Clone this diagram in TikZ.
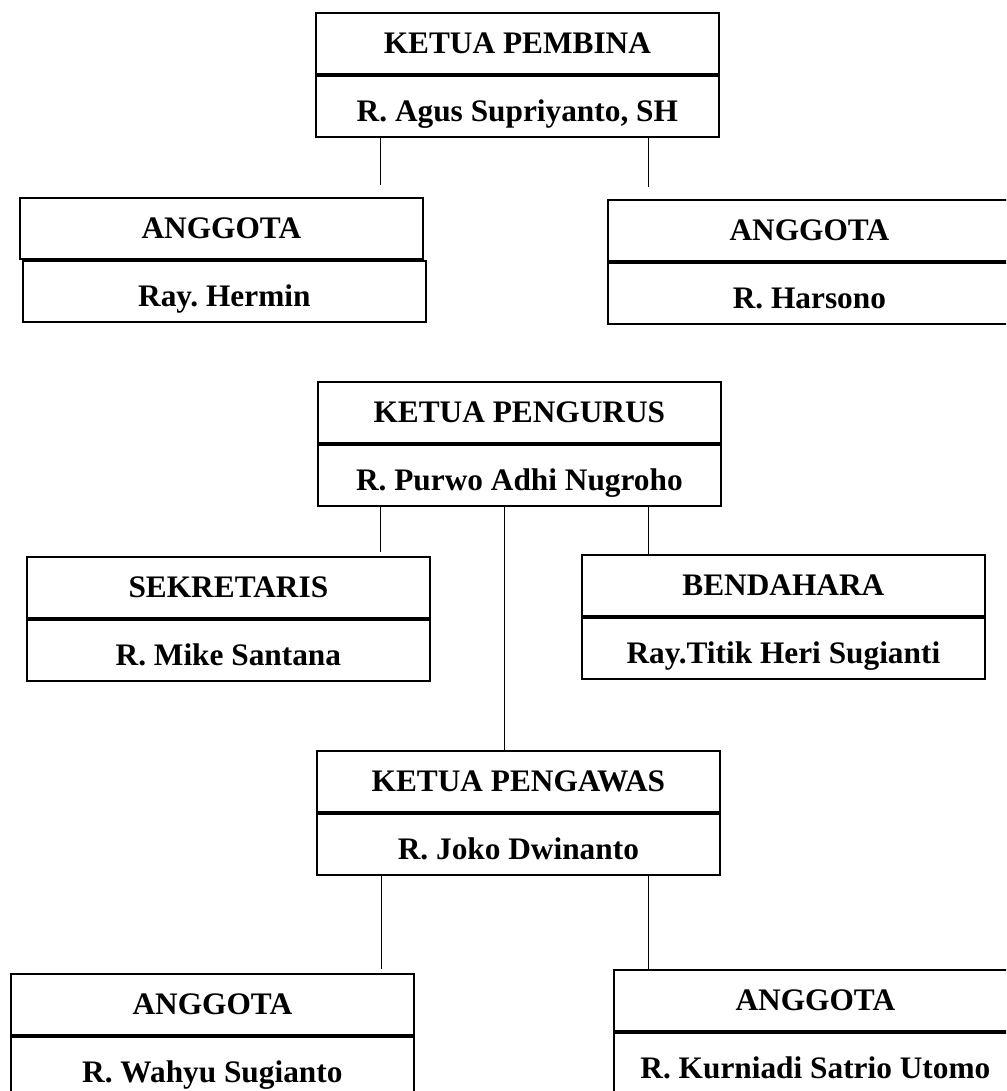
\documentclass[tikz,border=0pt]{standalone}
\usepackage{fontspec}
\setmainfont{Liberation Serif}
\usetikzlibrary{positioning}
\frenchspacing

\tikzset{
  jabatan/.style={draw, line width=1.3pt, anchor=north west, inner sep=0pt,
    minimum width=302.25pt, minimum height=46pt,
    font=\bfseries\fontsize{23.5}{28}\selectfont, text height=15.5pt, text depth=0pt},
  nama/.style={jabatan, anchor=north, text height=23pt},
  garis/.style={line width=0.75pt}
}

\begin{document}
\begin{tikzpicture}[x=0.75pt,y=0.75pt,yscale=-1,xscale=1]
%set diagram size 1006 x 1091
\clip (0,0) rectangle (1006,1091);

% Pembina
\node [jabatan] (pembina) at (315,12) {KETUA PEMBINA};
\node [nama, below=0pt of pembina] (pembinaNama) {R. Agus Supriyanto, SH};
% Anggota pembina kiri
\node [jabatan] (anggotaA) at (19,197) {ANGGOTA};
\node [nama, below=0pt of anggotaA, xshift=2.25pt] (anggotaANama) {Ray. Hermin};
% Anggota pembina kanan
\node [jabatan] (anggotaB) at (607,199) {ANGGOTA};
\node [nama, below=0pt of anggotaB] (anggotaBNama) {R. Harsono};

% Pengurus
\node [jabatan] (pengurus) at (317,381) {KETUA PENGURUS};
\node [nama, below=0pt of pengurus] (pengurusNama) {R. Purwo Adhi Nugroho};
% Sekretaris
\node [jabatan] (sekretaris) at (26,556) {SEKRETARIS};
\node [nama, below=0pt of sekretaris] (sekretarisNama) {R. Mike Santana};
% Bendahara
\node [jabatan] (bendahara) at (581,554) {BENDAHARA};
\node [nama, below=0pt of bendahara] (bendaharaNama) {Ray.Titik Heri Sugianti};

% Pengawas
\node [jabatan] (pengawas) at (316,750) {KETUA PENGAWAS};
\node [nama, below=0pt of pengawas] (pengawasNama) {R. Joko Dwinanto};
% Anggota pengawas kiri
\node [jabatan] (anggotaC) at (10,973) {ANGGOTA};
\node [nama, below=0pt of anggotaC] (anggotaCNama) {R. Wahyu Sugianto};
% Anggota pengawas kanan
\node [jabatan] (anggotaD) at (613,969) {ANGGOTA};
\node [nama, below=0pt of anggotaD] (anggotaDNama) {R. Kurniadi Satrio Utomo};

% Connector ends
\coordinate (ujungA) at (380,185);
\coordinate (ujungB) at (648,187);
\coordinate (ujungS) at (380,552);
\coordinate (ujungBd) at (648,554);
\coordinate (ujungP) at (504,750);
\coordinate (ujungC) at (381,969);
\coordinate (ujungD) at (648,969);

%Straight Lines
\draw [garis] (pembinaNama.south -| ujungA) -- (ujungA);
\draw [garis] (pembinaNama.south -| ujungB) -- (ujungB);
\draw [garis] (pengurusNama.south -| ujungS) -- (ujungS);
\draw [garis] (pengurusNama.south -| ujungBd) -- (bendahara.north -| ujungBd);
\draw [garis] (pengurusNama.south -| ujungP) -- (pengawas.north -| ujungP);
\draw [garis] (pengawasNama.south -| ujungC) -- (ujungC);
\draw [garis] (pengawasNama.south -| ujungD) -- (anggotaD.north -| ujungD);

\end{tikzpicture}
\end{document}
